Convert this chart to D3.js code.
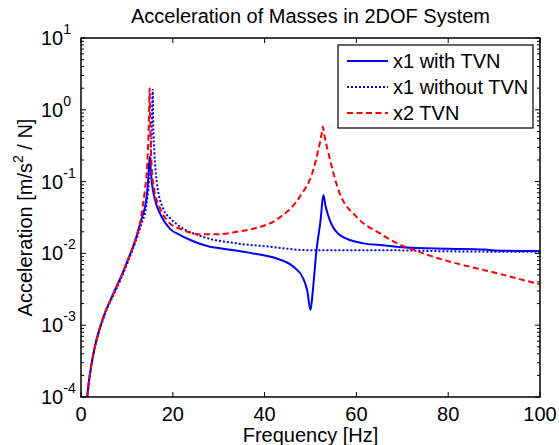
<!DOCTYPE html>
<html>
<head>
<meta charset="utf-8">
<script src="https://cdn.jsdelivr.net/npm/d3@7"></script>
<style>
  body { margin: 0; background: #fff; }
  svg { font-family: "Liberation Sans", Arial, sans-serif; }
</style>
</head>
<body>
<svg id="chart" width="559" height="445"></svg>
<script>
// Series, [frequency Hz, acceleration m/s^2/N]
const x1WithTVN = [
  [1.35, 1e-4], [1.8, 1.8e-4], [2.2, 2.65e-4], [2.8, 4.3e-4], [3.3, 6e-4], [3.9, 8.3e-4],
  [4.4, 1.05e-3], [5.4, 1.6e-3], [6.5, 2.3e-3], [7.6, 3.3e-3], [8.7, 4.7e-3],
  [10.2, 8.1e-3], [11.6, 0.0138], [13.1, 0.029], [14.2, 0.055], [14.6, 0.1], [14.85, 0.18],
  [15.0, 0.22], [15.15, 0.16], [15.5, 0.09], [16.0, 0.06], [17.2, 0.036], [19.4, 0.022],
  [21.6, 0.018], [23.7, 0.0155], [28.1, 0.0124], [30.3, 0.0118], [37.5, 0.01], [42.6, 0.0085],
  [46.3, 0.0065], [48.4, 0.0045], [49.3, 0.003], [50.0, 0.00163], [50.5, 0.003], [51.3, 0.011],
  [52.2, 0.029], [52.8, 0.065], [53.3, 0.045], [54.2, 0.029], [56.4, 0.018], [61.5, 0.0138],
  [65.1, 0.0131], [70, 0.0122], [80, 0.0116], [88, 0.0113], [90, 0.011], [100, 0.0108]
];
const x1WithoutTVN = [
  [1.35, 1e-4], [1.8, 1.75e-4], [2.2, 2.6e-4], [2.8, 4.2e-4], [3.3, 5.8e-4], [3.9, 8e-4],
  [4.4, 1e-3], [5.4, 1.55e-3], [6.5, 2.2e-3], [7.6, 3.1e-3], [8.7, 4.4e-3],
  [10.2, 7.6e-3], [11.6, 0.013], [13.1, 0.025], [14.2, 0.045], [14.8, 0.1], [15.2, 0.25],
  [15.45, 0.7], [15.6, 1.9], [15.75, 0.6], [16.0, 0.25], [16.5, 0.1], [17.9, 0.042],
  [19.4, 0.031], [21.6, 0.0236], [26.6, 0.017], [33.9, 0.0138], [41.2, 0.0124], [49.2, 0.0111],
  [55, 0.0111], [65, 0.0111], [80, 0.0107], [100, 0.0105]
];
const x2TVN = [
  [1.35, 1e-4], [1.8, 1.8e-4], [2.2, 2.65e-4], [2.8, 4.3e-4], [3.3, 6e-4], [3.9, 8.3e-4],
  [4.4, 1.05e-3], [5.4, 1.6e-3], [6.5, 2.3e-3], [7.6, 3.3e-3], [8.7, 4.7e-3],
  [10.2, 8.1e-3], [11.6, 0.0138], [13.1, 0.032], [13.9, 0.075], [14.3, 0.13], [14.6, 0.3],
  [14.8, 0.7], [14.95, 2.0], [15.1, 0.6], [15.4, 0.16], [16.0, 0.075], [17.2, 0.043],
  [19.4, 0.026], [21.6, 0.022], [25.9, 0.0185], [30.3, 0.0185], [34, 0.02], [37.5, 0.022],
  [43.4, 0.032], [47.7, 0.062], [50.6, 0.145], [51.7, 0.275], [52.4, 0.45], [52.7, 0.58],
  [53.0, 0.45], [53.9, 0.25], [56.1, 0.076], [60.1, 0.032], [65.1, 0.019], [70, 0.0128],
  [72.5, 0.0112], [76, 0.0093], [80, 0.0078], [90.6, 0.0053], [100, 0.0037]
];

const xTicks = [0, 20, 40, 60, 80, 100];
const yDecades = [1, 0, -1, -2, -3, -4];
const legendLabels = ["x1 with TVN", "x1 without TVN", "x2 TVN"];

const svg = d3.select("#chart");
const margin = { top: 38, right: 19, bottom: 48, left: 81 };
const width = 559 - margin.left - margin.right;
const height = 445 - margin.top - margin.bottom;

const x = d3.scaleLinear().domain([0, 100]).range([0, width]);
const y = d3.scaleLog().domain([1e-4, 10]).range([height, 0]);

const g = svg.append("g").attr("transform", `translate(${margin.left},${margin.top})`);

// title and axis labels
svg.append("text")
  .attr("x", margin.left + width / 2).attr("y", 23)
  .attr("text-anchor", "middle").attr("font-size", 20)
  .text("Acceleration of Masses in 2DOF System");

svg.append("text")
  .attr("x", margin.left + width / 2).attr("y", 442)
  .attr("text-anchor", "middle").attr("font-size", 20)
  .text("Frequency [Hz]");

const yl = svg.append("text")
  .attr("transform", `translate(32,${margin.top + height / 2}) rotate(-90)`)
  .attr("text-anchor", "middle").attr("font-size", 20);
yl.append("tspan").text("Acceleration [m/s");
yl.append("tspan").attr("font-size", 14).attr("dy", -9).text("2");
yl.append("tspan").attr("dy", 9).text(" / N]");

// clip for the curves
svg.append("defs").append("clipPath").attr("id", "clip")
  .append("rect").attr("width", width).attr("height", height);

const line = d3.line()
  .x(d => x(d[0]))
  .y(d => y(d[1]))
  .curve(d3.curveMonotoneX);

const plot = g.append("g").attr("clip-path", "url(#clip)");

// same order as the legend, red ends up on top
plot.append("path").datum(x1WithTVN)
  .attr("d", line).attr("fill", "none")
  .attr("stroke", "#0000ff").attr("stroke-width", 2);
plot.append("path").datum(x1WithoutTVN)
  .attr("d", line).attr("fill", "none")
  .attr("stroke", "#0000ff").attr("stroke-width", 2).attr("stroke-dasharray", "2,2");
plot.append("path").datum(x2TVN)
  .attr("d", line).attr("fill", "none")
  .attr("stroke", "#ff0000").attr("stroke-width", 2).attr("stroke-dasharray", "6,3.5");

// ticks (matlab style, pointing in)
const minor = [];
yDecades.slice(1).forEach(p => {
  for (let k = 2; k <= 9; k++) minor.push(k * Math.pow(10, p));
});

const tickG = g.append("g").attr("stroke", "#000").attr("stroke-width", 1);
xTicks.forEach(t => {
  tickG.append("line").attr("x1", x(t)).attr("x2", x(t)).attr("y1", height).attr("y2", height - 5);
  tickG.append("line").attr("x1", x(t)).attr("x2", x(t)).attr("y1", 0).attr("y2", 5);
});
yDecades.forEach(p => {
  const v = Math.pow(10, p);
  tickG.append("line").attr("x1", 0).attr("x2", 5).attr("y1", y(v)).attr("y2", y(v));
  tickG.append("line").attr("x1", width).attr("x2", width - 5).attr("y1", y(v)).attr("y2", y(v));
});
minor.forEach(v => {
  tickG.append("line").attr("x1", 0).attr("x2", 3).attr("y1", y(v)).attr("y2", y(v));
  tickG.append("line").attr("x1", width).attr("x2", width - 3).attr("y1", y(v)).attr("y2", y(v));
});

// frame
g.append("rect").attr("width", width).attr("height", height)
  .attr("fill", "none").attr("stroke", "#000").attr("stroke-width", 1.5);

// tick labels
xTicks.forEach(t => {
  g.append("text").attr("x", x(t)).attr("y", height + 24)
    .attr("text-anchor", "middle").attr("font-size", 20).text(t);
});
yDecades.forEach(p => {
  const tl = svg.append("text").attr("x", 41).attr("y", margin.top + y(Math.pow(10, p)) + 7)
    .attr("font-size", 20);
  tl.append("tspan").text("10");
  tl.append("tspan").attr("font-size", 14).attr("dy", -11).text(p);
});

// legend
const lg = svg.append("g").attr("transform", "translate(338,45)");
lg.append("rect").attr("width", 195).attr("height", 83)
  .attr("fill", "#fff").attr("stroke", "#000").attr("stroke-width", 1.2);
const styles = [
  { c: "#0000ff", d: null },
  { c: "#0000ff", d: "2,2" },
  { c: "#ff0000", d: "6,3.5" }
];
legendLabels.forEach((lab, i) => {
  const yy = 16 + i * 26;
  lg.append("line").attr("x1", 9).attr("x2", 50).attr("y1", yy).attr("y2", yy)
    .attr("stroke", styles[i].c).attr("stroke-width", 2)
    .attr("stroke-dasharray", styles[i].d);
  lg.append("text").attr("x", 55).attr("y", yy + 7).attr("font-size", 20).text(lab);
});
</script>
</body>
</html>
